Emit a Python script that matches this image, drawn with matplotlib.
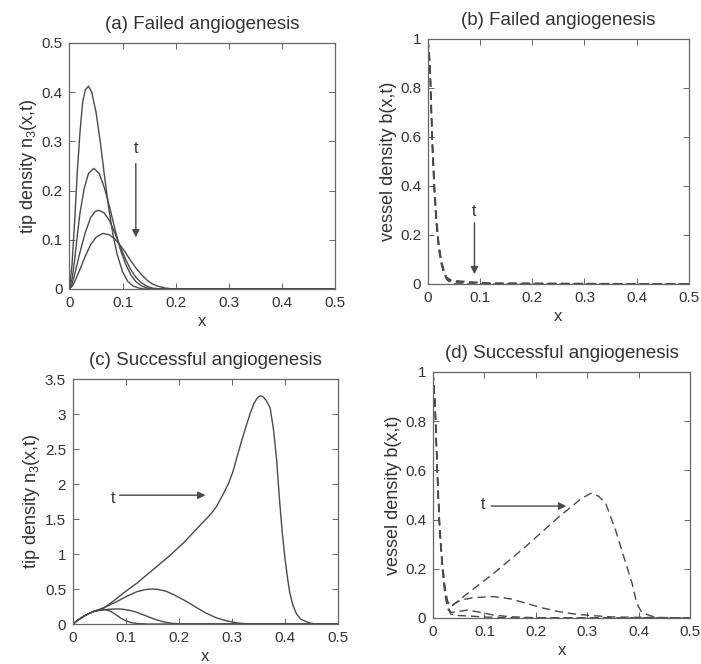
import matplotlib.pyplot as plt
from matplotlib.ticker import FuncFormatter

# (a) failed angiogenesis, tip density
a_x1 = [0, 0.005, 0.01, 0.015, 0.02, 0.025, 0.03, 0.036, 0.042, 0.05, 0.058, 0.066, 0.074, 0.082, 0.09, 0.1, 0.11, 0.12, 0.13, 0.14, 0.5]
a_y1 = [0, 0.05, 0.14, 0.24, 0.32, 0.38, 0.405, 0.412, 0.40, 0.36, 0.30, 0.23, 0.165, 0.11, 0.07, 0.035, 0.015, 0.006, 0.002, 0, 0]
a_x2 = [0, 0.005, 0.01, 0.015, 0.02, 0.028, 0.036, 0.046, 0.056, 0.066, 0.076, 0.086, 0.096, 0.106, 0.116, 0.126, 0.136, 0.146, 0.156, 0.5]
a_y2 = [0, 0.02, 0.06, 0.11, 0.155, 0.205, 0.235, 0.245, 0.235, 0.205, 0.165, 0.12, 0.08, 0.05, 0.028, 0.014, 0.006, 0.002, 0, 0]
a_x3 = [0, 0.005, 0.01, 0.02, 0.03, 0.04, 0.048, 0.055, 0.065, 0.075, 0.085, 0.095, 0.105, 0.115, 0.125, 0.135, 0.145, 0.155, 0.17, 0.5]
a_y3 = [0, 0.01, 0.03, 0.075, 0.115, 0.145, 0.157, 0.16, 0.155, 0.14, 0.115, 0.088, 0.062, 0.04, 0.024, 0.013, 0.006, 0.002, 0, 0]
a_x4 = [0, 0.005, 0.01, 0.02, 0.03, 0.04, 0.05, 0.063, 0.075, 0.085, 0.095, 0.105, 0.115, 0.125, 0.135, 0.145, 0.155, 0.165, 0.18, 0.195, 0.5]
a_y4 = [0, 0.005, 0.015, 0.04, 0.067, 0.09, 0.105, 0.113, 0.11, 0.102, 0.09, 0.075, 0.058, 0.043, 0.03, 0.019, 0.011, 0.006, 0.002, 0, 0]

# (b) failed angiogenesis, vessel density
b_x1 = [0, 0.004, 0.008, 0.012, 0.016, 0.02, 0.025, 0.03, 0.035, 0.045, 0.5]
b_y1 = [1, 0.9, 0.62, 0.42, 0.28, 0.18, 0.1, 0.05, 0.02, 0, 0]
b_x2 = [0, 0.004, 0.008, 0.012, 0.016, 0.02, 0.025, 0.03, 0.035, 0.04, 0.05, 0.5]
b_y2 = [1, 0.88, 0.6, 0.4, 0.26, 0.17, 0.1, 0.06, 0.03, 0.015, 0.005, 0]
b_x3 = [0, 0.004, 0.008, 0.012, 0.016, 0.02, 0.025, 0.03, 0.035, 0.045, 0.06, 0.07, 0.08, 0.1, 0.12, 0.5]
b_y3 = [1, 0.86, 0.58, 0.38, 0.25, 0.16, 0.09, 0.05, 0.025, 0.012, 0.01, 0.01, 0.008, 0.005, 0.002, 0]
b_x4 = [0, 0.004, 0.008, 0.012, 0.016, 0.02, 0.025, 0.03, 0.035, 0.045, 0.06, 0.08, 0.09, 0.1, 0.11, 0.13, 0.5]
b_y4 = [1, 0.84, 0.56, 0.37, 0.24, 0.15, 0.085, 0.045, 0.028, 0.015, 0.012, 0.008, 0.007, 0.006, 0.003, 0.001, 0]

# (c) successful angiogenesis, tip density
c_x1 = [0, 0.01, 0.02, 0.03, 0.04, 0.05, 0.06, 0.07, 0.08, 0.09, 0.1, 0.11, 0.12, 0.14, 0.5]
c_y1 = [0, 0.06, 0.11, 0.15, 0.18, 0.2, 0.205, 0.185, 0.14, 0.085, 0.045, 0.02, 0.008, 0, 0]
c_x2 = [0, 0.01, 0.02, 0.03, 0.04, 0.05, 0.06, 0.07, 0.08, 0.09, 0.1, 0.11, 0.12, 0.13, 0.14, 0.15, 0.16, 0.17, 0.185, 0.2, 0.5]
c_y2 = [0, 0.06, 0.11, 0.15, 0.18, 0.195, 0.205, 0.212, 0.215, 0.214, 0.205, 0.19, 0.168, 0.14, 0.11, 0.08, 0.055, 0.033, 0.012, 0.003, 0]
c_x3 = [0, 0.01, 0.02, 0.03, 0.04, 0.05, 0.06, 0.08, 0.1, 0.12, 0.135, 0.148, 0.16, 0.175, 0.19, 0.21, 0.23, 0.25, 0.27, 0.29, 0.31, 0.33, 0.5]
c_y3 = [0, 0.06, 0.11, 0.15, 0.185, 0.21, 0.24, 0.31, 0.39, 0.46, 0.49, 0.5, 0.495, 0.47, 0.42, 0.34, 0.25, 0.16, 0.09, 0.045, 0.015, 0.003, 0]
c_x4 = [0, 0.01, 0.02, 0.03, 0.04, 0.057, 0.08, 0.1, 0.12, 0.15, 0.183, 0.21, 0.246, 0.26, 0.271, 0.283, 0.293, 0.302, 0.31, 0.318,
        0.326, 0.334, 0.342, 0.348, 0.353, 0.358, 0.364, 0.372, 0.378, 0.384, 0.39, 0.395, 0.4, 0.405, 0.409, 0.415, 0.422, 0.43,
        0.441, 0.45, 0.46, 0.5]
c_y4 = [0, 0.06, 0.11, 0.15, 0.18, 0.22, 0.35, 0.47, 0.58, 0.77, 0.98, 1.17, 1.46, 1.57, 1.68, 1.85, 2.0, 2.18, 2.4, 2.61,
        2.81, 3.0, 3.16, 3.23, 3.26, 3.25, 3.2, 3.09, 2.8, 2.37, 1.75, 1.3, 0.94, 0.65, 0.45, 0.27, 0.14, 0.07,
        0.03, 0.01, 0, 0]

# (d) successful angiogenesis, vessel density
d_x1 = [0, 0.004, 0.009, 0.013, 0.018, 0.023, 0.028, 0.035, 0.06, 0.117, 0.181, 0.244, 0.288, 0.307, 0.322, 0.336, 0.355, 0.371, 0.387, 0.396, 0.405, 0.421, 0.435, 0.5]
d_y1 = [1, 0.88, 0.57, 0.38, 0.23, 0.13, 0.07, 0.046, 0.088, 0.18, 0.292, 0.41, 0.485, 0.507, 0.495, 0.464, 0.356, 0.248, 0.14, 0.06, 0.025, 0.01, 0.002, 0]
d_x2 = [0, 0.004, 0.009, 0.013, 0.018, 0.023, 0.028, 0.035, 0.054, 0.08, 0.117, 0.15, 0.181, 0.21, 0.244, 0.275, 0.307, 0.35, 0.5]
d_y2 = [1, 0.87, 0.56, 0.37, 0.22, 0.12, 0.065, 0.05, 0.073, 0.083, 0.087, 0.078, 0.06, 0.042, 0.026, 0.016, 0.01, 0.004, 0]
d_x3 = [0, 0.004, 0.009, 0.013, 0.018, 0.023, 0.028, 0.035, 0.05, 0.067, 0.09, 0.117, 0.15, 0.2, 0.5]
d_y3 = [1, 0.86, 0.55, 0.36, 0.21, 0.11, 0.05, 0.022, 0.027, 0.032, 0.024, 0.012, 0.005, 0.001, 0]
d_x4 = [0, 0.004, 0.009, 0.013, 0.018, 0.023, 0.028, 0.035, 0.05, 0.07, 0.1, 0.15, 0.5]
d_y4 = [1, 0.85, 0.54, 0.35, 0.2, 0.1, 0.04, 0.015, 0.01, 0.008, 0.004, 0.001, 0]

x_ticks = [0, 0.1, 0.2, 0.3, 0.4, 0.5]
a_yticks = [0, 0.1, 0.2, 0.3, 0.4, 0.5]
b_yticks = [0, 0.2, 0.4, 0.6, 0.8, 1]
c_yticks = [0, 0.5, 1, 1.5, 2, 2.5, 3, 3.5]

titles = ["(a) Failed angiogenesis", "(b) Failed angiogenesis",
          "(c) Successful angiogenesis", "(d) Successful angiogenesis"]
tip_label = "tip density n$_3$(x,t)"
vessel_label = "vessel density b(x,t)"

plt.rcParams['font.family'] = ['Liberation Sans', 'DejaVu Sans']
plt.rcParams['mathtext.fontset'] = 'custom'
plt.rcParams['mathtext.rm'] = 'Liberation Sans'
plt.rcParams['mathtext.it'] = 'Liberation Sans'

line_col = '#4a4a4a'
txt_col = '#333333'
fmt = FuncFormatter(lambda v, p: '%g' % round(v, 3))

fig = plt.figure(figsize=(7.01, 6.64), dpi=100)
ax_a = fig.add_axes([0.099, 0.5648, 0.379, 0.3705])
ax_b = fig.add_axes([0.6106, 0.5723, 0.372, 0.369])
ax_c = fig.add_axes([0.1041, 0.0602, 0.378, 0.369])
ax_d = fig.add_axes([0.6177, 0.0693, 0.367, 0.3705])


def style(ax, title, ylabel, yticks):
    ax.set_xlim(0, 0.5)
    ax.set_ylim(yticks[0], yticks[-1])
    ax.set_xticks(x_ticks)
    ax.set_yticks(yticks)
    ax.xaxis.set_major_formatter(fmt)
    ax.yaxis.set_major_formatter(fmt)
    ax.tick_params(direction='in', top=True, right=True, length=4, width=0.7,
                   colors='#666666', labelcolor=txt_col, labelsize=11, pad=5)
    for s in ax.spines.values():
        s.set_color('#666666')
        s.set_linewidth(0.9)
    ax.set_title(title, fontsize=13.5, color=txt_col, pad=10)
    ax.set_xlabel("x", fontsize=12, color=txt_col, labelpad=3)
    ax.set_ylabel(ylabel, fontsize=13, color=txt_col, labelpad=2)


def arrow(ax, x0, y0, x1, y1, tx, ty):
    ax.annotate("", xy=(x1, y1), xytext=(x0, y0),
                arrowprops=dict(arrowstyle='-|>', color=line_col, lw=1.0,
                                mutation_scale=11, shrinkA=0, shrinkB=0))
    ax.text(tx, ty, "t", fontsize=11.5, color=txt_col, ha='center', va='center')


for xs, ys in [(a_x1, a_y1), (a_x2, a_y2), (a_x3, a_y3), (a_x4, a_y4)]:
    ax_a.plot(xs, ys, color=line_col, lw=1.0)
style(ax_a, titles[0], tip_label, a_yticks)
arrow(ax_a, 0.125, 0.255, 0.125, 0.105, 0.125, 0.285)

for xs, ys in [(b_x1, b_y1), (b_x2, b_y2), (b_x3, b_y3), (b_x4, b_y4)]:
    ax_b.plot(xs, ys, color=line_col, lw=1.0, linestyle=(0, (6, 3.5)))
style(ax_b, titles[1], vessel_label, b_yticks)
arrow(ax_b, 0.089, 0.25, 0.089, 0.04, 0.089, 0.295)

for xs, ys in [(c_x1, c_y1), (c_x2, c_y2), (c_x3, c_y3), (c_x4, c_y4)]:
    ax_c.plot(xs, ys, color=line_col, lw=1.0)
style(ax_c, titles[2], tip_label, c_yticks)
arrow(ax_c, 0.088, 1.84, 0.25, 1.84, 0.076, 1.80)

for xs, ys in [(d_x1, d_y1), (d_x2, d_y2), (d_x3, d_y3), (d_x4, d_y4)]:
    ax_d.plot(xs, ys, color=line_col, lw=1.0, linestyle=(0, (6, 3.5)))
style(ax_d, titles[3], vessel_label, b_yticks)
arrow(ax_d, 0.113, 0.455, 0.259, 0.455, 0.098, 0.46)

fig.savefig("out.png", dpi=100)
